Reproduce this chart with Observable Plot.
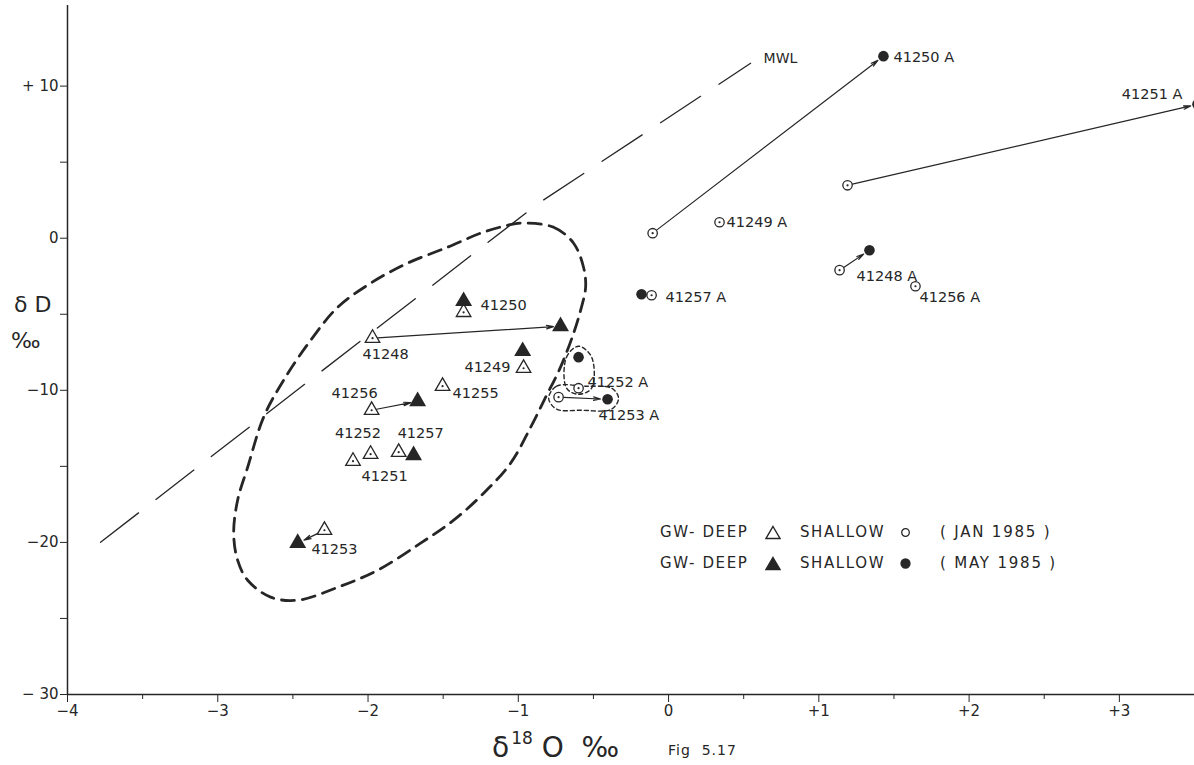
<!DOCTYPE html>
<html><head><meta charset="utf-8">
<script src="https://cdn.jsdelivr.net/npm/d3@7"></script>
<script src="https://cdn.jsdelivr.net/npm/@observablehq/plot@0.6"></script>
<style>
body{margin:0;background:#fff;}
#wrap{position:relative;width:1194px;height:765px;overflow:hidden;font-family:"DejaVu Sans",sans-serif;color:#262626;background:#fff;}
#wrap > svg{position:absolute;left:0;top:0;}
.lbl{position:absolute;white-space:pre;line-height:1;}
.sym{position:absolute;display:block;}
</style></head><body><div id="wrap"></div>
<script>
// ---------- data ----------
// GW deep, January 1985 (open triangles)
const deepJanIds = ["41248","41249","41250","41251","41252","41253","41255","41256","41257"];
const deepJanX   = [-1.97, -0.965, -1.364, -1.983, -2.10, -2.29, -1.504, -1.976, -1.796];
const deepJanY   = [-6.57, -8.55, -4.87, -14.2, -14.66, -19.2, -9.73, -11.31, -14.07];
// GW deep, May 1985 (filled triangles)
const deepMayIds = ["41248","41249","41250","41253","41256","41257"];
const deepMayX   = [-0.719, -0.971, -1.364, -2.468, -1.67, -1.697];
const deepMayY   = [-5.79, -7.43, -4.14, -20.05, -10.72, -14.27];
// GW shallow, January 1985 (open circles)
const shJanIds = ["41248 A","41249 A","41250 A","41251 A","41252 A","41253 A","41256 A","41257 A"];
const shJanX   = [1.138, 0.339, -0.106, 1.191, -0.599, -0.732, 1.643, -0.113];
const shJanY   = [-2.10, 1.05, 0.33, 3.48, -9.86, -10.45, -3.16, -3.75];
// GW shallow, May 1985 (filled circles)
const shMayIds = ["41248 A","41250 A","41251 A","41252 A","41253 A","41257 A"];
const shMayX   = [1.337, 1.43, 3.52, -0.599, -0.406, -0.18];
const shMayY   = [-0.79, 11.97, 8.8, -7.82, -10.59, -3.68];
// samples joined Jan -> May by an arrow
const deepArrowIds = ["41248","41253","41256"];
const shArrowIds   = ["41248 A","41250 A","41251 A","41253 A"];
// meteoric water line (as drawn)
const mwlX = [-3.78, -0.865, 0.546];
const mwlY = [-19.99, 2.30, 11.5];
// dashed envelope around the deep groundwater field
const envX = [-0.985,-0.765,-0.632,-0.566,-0.552,-0.585,-0.632,-0.719,-0.818,-0.918,-1.051,-1.231,-1.430,-1.650,-1.936,-2.202,-2.468,-2.648,-2.801,-2.868,-2.894,-2.868,-2.801,-2.695,-2.562,-2.382,-2.202,-1.983,-1.737,-1.470,-1.251,-1.071];
const envY = [0.99,0.72,-0.33,-1.91,-3.22,-4.73,-6.25,-8.48,-10.45,-12.43,-14.79,-16.77,-18.54,-20.05,-21.83,-22.95,-23.80,-23.60,-22.49,-21.17,-19.40,-17.23,-15.06,-11.77,-9.34,-6.71,-4.54,-2.96,-1.64,-0.59,0.33,0.85];
// small dashed loops around 41252 A and 41253 A
const loopAX = [-0.679,-0.679,-0.599,-0.512,-0.512,-0.599];
const loopAY = [-9.86,-7.82,-7.10,-7.82,-9.86,-10.26];
const loopBX = [-0.798,-0.745,-0.552,-0.379,-0.333,-0.379,-0.585,-0.745];
const loopBY = [-10.52,-9.73,-9.73,-9.86,-10.52,-11.24,-11.31,-11.24];
// axes
const xTicks = [-4,-3,-2,-1,0,1,2,3];
const xTickLabels = ["\u22124","\u22123","\u22122","\u22121","0","+1","+2","+3"];
const xMinor = [-3.5,-2.5,-1.5,-0.5,0.5,1.5,2.5];
const yTicks = [10,0,-10,-20,-30];
const yTickLabels = ["+ 10","0","\u221210","\u221220","\u2212 30"];
const yMinor = [5,-5,-15,-25];

// ---------- build tables ----------
const zip = (ids,xs,ys)=>ids.map((id,i)=>({id,x:xs[i],y:ys[i]}));
const deepJan = zip(deepJanIds,deepJanX,deepJanY);
const deepMay = zip(deepMayIds,deepMayX,deepMayY);
const shJan = zip(shJanIds,shJanX,shJanY);
const shMay = zip(shMayIds,shMayX,shMayY);
const pair = (ids,a,b)=>ids.map(id=>{const p=a.find(d=>d.id===id),q=b.find(d=>d.id===id);return {x1:p.x,y1:p.y,x2:q.x,y2:q.y};});
const arrows = [...pair(deepArrowIds,deepJan,deepMay), ...pair(shArrowIds,shJan,shMay)];
const env = envX.map((x,i)=>({x,y:envY[i]}));
const loopA = loopAX.map((x,i)=>({x,y:loopAY[i]}));
const loopB = loopBX.map((x,i)=>({x,y:loopBY[i]}));
const mwl = mwlX.map((x,i)=>({x,y:mwlY[i]}));

const ink = "#262626";
// label placement (pixel offsets from the sample's marker)
const labelPlacement = [
  ["41250", deepMay, 17, 4, "start"],
  ["41248", deepJan, 13, 16, "middle"],
  ["41249", deepJan, -13, -1, "end"],
  ["41255", deepJan, 10, 7, "start"],
  ["41256", deepJan, -17, -17, "middle"],
  ["41252", deepJan, 5, -28, "middle"],
  ["41257", deepJan, 22, -19, "middle"],
  ["41251", deepJan, 14, 22, "middle"],
  ["41253", deepJan, 10, 19, "middle"],
  ["41252 A", shJan, 9, -6, "start"],
  ["41253 A", shMay, -9, 16, "start"],
  ["41249 A", shJan, 7, 0, "start"],
  ["41250 A", shMay, 10, 1, "start"],
  ["41251 A", shMay, -15, -10, "end"],
  ["41257 A", shJan, 14, 2, "start"],
  ["41248 A", shJan, 17, 6, "start"],
  ["41256 A", shJan, 4, 11, "start"]
];
const labelMarks = labelPlacement.map(([id,set,dx,dy,anchor])=>
  Plot.text(set.filter(d=>d.id===id),{x:"x",y:"y",text:"id",dx,dy,textAnchor:anchor,fill:ink,fontSize:14.5,letterSpacing:0.3}));

const chart = Plot.plot({
  width:1194, height:765,
  marginLeft:67, marginRight:0, marginTop:5, marginBottom:71,
  x:{domain:[-4,3.5], axis:null},
  y:{domain:[-30,15.3], axis:null},
  style:{fontFamily:"DejaVu Sans, sans-serif", color:ink, background:"transparent", overflow:"visible"},
  marks:[
    Plot.line(mwl,{x:"x",y:"y",stroke:ink,strokeWidth:1.3,strokeDasharray:"48,22"}),
    Plot.text(mwl.slice(-1),{x:"x",y:"y",text:()=>"MWL",dx:13,dy:-5,textAnchor:"start",fontSize:14,fill:ink,letterSpacing:0.5}),
    Plot.line(env,{x:"x",y:"y",curve:"catmull-rom-closed",stroke:ink,strokeWidth:2.8,strokeDasharray:"13,8"}),
    Plot.line(loopA,{x:"x",y:"y",curve:"catmull-rom-closed",stroke:ink,strokeWidth:1.4,strokeDasharray:"4,3"}),
    Plot.line(loopB,{x:"x",y:"y",curve:"catmull-rom-closed",stroke:ink,strokeWidth:1.4,strokeDasharray:"4,3"}),
    Plot.arrow(arrows,{x1:"x1",y1:"y1",x2:"x2",y2:"y2",stroke:ink,strokeWidth:1.2,insetStart:5,insetEnd:7,headLength:9,headAngle:28}),
    Plot.dot(deepJan,{x:"x",y:"y",symbol:"triangle",r:5.4,fill:"white",stroke:ink,strokeWidth:1.3}),
    Plot.dot(deepJan,{x:"x",y:"y",r:1.1,fill:ink}),
    Plot.dot(deepMay,{x:"x",y:"y",symbol:"triangle",r:6.3,fill:ink}),
    Plot.dot(shJan,{x:"x",y:"y",r:4.7,fill:"white",stroke:ink,strokeWidth:1.3}),
    Plot.dot(shJan,{x:"x",y:"y",r:1.1,fill:ink}),
    Plot.dot(shMay,{x:"x",y:"y",r:5.3,fill:ink}),
    ...labelMarks,
    Plot.ruleX([-4],{stroke:ink,strokeWidth:1.5}),
    Plot.ruleY([-30],{stroke:ink,strokeWidth:1.5}),
    Plot.axisX({ticks:xTicks,tickFormat:(d)=>xTickLabels[xTicks.indexOf(d)],tickSize:8,tickPadding:3,fontSize:15,label:null,stroke:ink,fill:ink}),
    Plot.axisX({ticks:xMinor,tickFormat:()=>"",tickSize:5,label:null,stroke:ink}),
    Plot.axisY({ticks:yTicks,tickFormat:d=>yTickLabels[yTicks.indexOf(d)],tickSize:7,tickPadding:2,fontSize:15,label:null,stroke:ink,fill:ink}),
    Plot.axisY({ticks:yMinor,tickFormat:()=>"",tickSize:7,label:null,stroke:ink})
  ]
});
const wrap = document.getElementById("wrap");
wrap.appendChild(chart);

// ---------- text annotations outside the plot frame ----------
function place(html,left,cy,size,extra=""){
  const el=document.createElement("div");
  el.className="lbl";
  el.style.cssText=`left:${left}px;top:${cy}px;font-size:${size}px;transform:translateY(-50%);${extra}`;
  el.innerHTML=html; wrap.appendChild(el); return el;
}
function symbol(svgInner,w,h,cx,cy){
  const ns="http://www.w3.org/2000/svg";
  const s=document.createElementNS(ns,"svg");
  s.setAttribute("width",w); s.setAttribute("height",h);
  s.setAttribute("class","sym");
  s.style.left=(cx-w/2)+"px"; s.style.top=(cy-h/2)+"px";
  s.innerHTML=svgInner; wrap.appendChild(s);
}
place("\u03b4 D",14,305,22);
place("\u2030",11,341,22);
place("\u03b4<span style='font-size:17px;position:relative;top:-13px;margin-left:2px'>18</span> O &nbsp;\u2030",492,748,28);
place("Fig &nbsp;5.17",668,750,14,"letter-spacing:1px");

// legend
[[532,false,"( JAN 1985 )"],[563,true,"( MAY 1985 )"]].forEach(([cy,f,t])=>{
  place("GW- DEEP",660,cy,15,"letter-spacing:1.6px");
  symbol(`<path d="M8 1.5 L15 13.5 L1 13.5 Z" fill="${f?ink:'white'}" stroke="${ink}" stroke-width="1.4"/>`,16,15,773,cy);
  place("SHALLOW",800,cy,15,"letter-spacing:1.6px");
  symbol(`<circle cx="5.5" cy="5.5" r="${f?4.5:3.8}" fill="${f?ink:'white'}" stroke="${ink}" stroke-width="1.3"/>`,11,11,905,cy);
  place(t,940,cy,15,"letter-spacing:1.8px");
});
</script></body></html>
